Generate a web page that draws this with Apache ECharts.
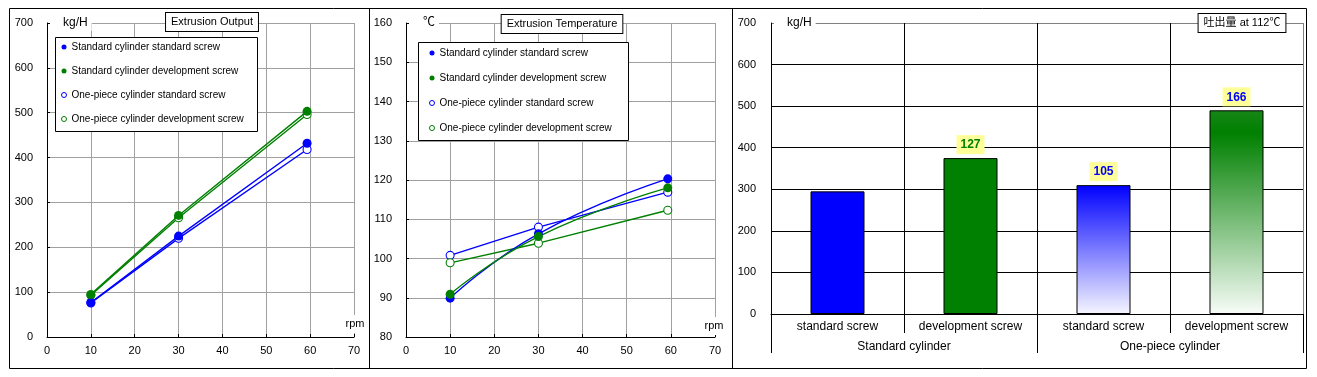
<!DOCTYPE html>
<html>
<head>
<meta charset="utf-8">
<script src="https://cdn.jsdelivr.net/npm/echarts@6/dist/echarts.min.js"></script>
<style>
  html, body { margin: 0; padding: 0; background: #fff; }
  #chart { width: 1317px; height: 377px; }
</style>
</head>
<body>
<div id="chart"></div>
<script>
// screw speed (rpm) used in both line charts
const rpm = [10, 30, 59.3];

// Extrusion Output (kg/H)
const outStdCylStdScrew = [77, 225, 432];
const outStdCylDevScrew = [95, 271, 503];
const outOneCylStdScrew = [76, 220, 418];
const outOneCylDevScrew = [93, 266, 496];

// Extrusion Temperature (℃)
const tempStdCylStdScrew = [89.9, 106.3, 120.3];
const tempStdCylDevScrew = [90.9, 105.6, 118.0];
const tempOneCylStdScrew = [100.8, 108.0, 116.9];
const tempOneCylDevScrew = [98.9, 103.9, 112.3];

// 吐出量 at 112℃ (kg/H)
const screwNames = ["standard screw", "development screw", "standard screw", "development screw"];
const cylinderNames = ["Standard cylinder", "One-piece cylinder"];
const outputAt112 = [295, 375, 310, 490];
const ratioLabels = ["", "127", "105", "166"];

const seriesNames = [
  "Standard cylinder standard screw",
  "Standard cylinder development screw",
  "One-piece cylinder standard screw",
  "One-piece cylinder development screw",
];

const BLUE = "#0000ff";
const GREEN = "#008000";
const GRID_GREY = "#a0a0a0";
const FONT = "'Liberation Sans', Arial, 'Noto Sans CJK JP', sans-serif";
const NARROW = "'Liberation Sans Narrow', 'Liberation Sans', Arial, sans-serif";

const chart = echarts.init(document.getElementById("chart"), null, { renderer: "canvas" });

function lineSeries(name, values, axis, color, filled, smooth) {
  return {
    name,
    type: "line",
    xAxisIndex: axis,
    yAxisIndex: axis,
    data: rpm.map((r, i) => [r, values[i]]),
    symbol: "circle",
    symbolSize: filled ? 9 : 8,
    smooth: smooth ? 0.5 : false,
    lineStyle: { color, width: 1.4 },
    itemStyle: filled ? { color } : { color: "#fff", borderColor: color, borderWidth: 1.1 },
    z: filled ? 4 : 3,
    emphasis: { disabled: true },
  };
}

function legendItems() {
  return [
    { name: seriesNames[0], icon: "circle", itemStyle: { color: BLUE, borderWidth: 0 } },
    { name: seriesNames[1], icon: "circle", itemStyle: { color: GREEN, borderWidth: 0 } },
    { name: seriesNames[2], icon: "circle", itemStyle: { color: "#fff", borderColor: BLUE, borderWidth: 1 } },
    { name: seriesNames[3], icon: "circle", itemStyle: { color: "#fff", borderColor: GREEN, borderWidth: 1 } },
  ];
}

function valueXAxis(grid) {
  return {
    type: "value", gridIndex: grid, min: 0, max: 70, interval: 10,
    axisLine: { show: true, onZero: false, lineStyle: { color: "#000", width: 1 } },
    axisTick: { show: true, inside: true, length: 3, lineStyle: { color: "#000" } },
    axisLabel: { color: "#000", fontSize: 11, fontFamily: FONT, margin: 8 },
    splitLine: { show: true, lineStyle: { color: GRID_GREY, width: 1 } },
  };
}

function valueYAxis(grid, min, max, interval) {
  return {
    type: "value", gridIndex: grid, min, max, interval,
    axisLine: { show: true, onZero: false, lineStyle: { color: "#000", width: 1 } },
    axisTick: { show: true, inside: true, length: 3, lineStyle: { color: "#000" } },
    axisLabel: { color: "#000", fontSize: 11, fontFamily: FONT, margin: 14 },
    splitLine: { show: true, lineStyle: { color: GRID_GREY, width: 1 } },
  };
}

const barFills = [
  BLUE,
  GREEN,
  { type: "linear", x: 0, y: 0, x2: 0, y2: 1, colorStops: [
    { offset: 0, color: "#0000ff" }, { offset: 1, color: "#f6f6ff" } ] },
  { type: "linear", x: 0, y: 0, x2: 0, y2: 1, colorStops: [
    { offset: 0, color: "#178617" }, { offset: 0.11, color: "#008000" }, { offset: 1, color: "#f8fcf8" } ] },
];
const ratioColors = [BLUE, GREEN, BLUE, BLUE];

function unitText(x, y, text, padLeft) {
  return {
    type: "text", x, y, z: 10,
    style: {
      text, fill: "#000", fontSize: 12, fontFamily: FONT,
      align: "left", verticalAlign: "middle",
      backgroundColor: "#fff", padding: [2, 4, 2, padLeft],
    },
  };
}

function titleBox(x, y, text) {
  return {
    type: "text", x, y, z: 10,
    style: {
      text, fill: "#000", fontSize: 11, fontFamily: FONT,
      align: "center", verticalAlign: "middle",
      backgroundColor: "#fff", borderColor: "#000", borderWidth: 1,
      padding: [4, 5, 3, 5],
    },
  };
}

function rpmText(x, y) {
  return {
    type: "text", x, y, z: 10,
    style: {
      text: "rpm", fill: "#000", fontSize: 11, fontFamily: FONT,
      align: "center", verticalAlign: "middle",
      backgroundColor: "#fff", padding: [4, 1, 3, 1],
    },
  };
}

const option = {
  animation: false,
  backgroundColor: "#fff",
  grid: [
    { left: 47, top: 23, width: 307, height: 314 },
    { left: 406, top: 23, width: 309, height: 314 },
    { left: 771, top: 23, width: 532, height: 291 },
  ],
  legend: [
    {
      data: legendItems(), orient: "vertical", left: 61, top: 41,
      itemWidth: 5, itemHeight: 5, itemGap: 12, padding: 0, selectedMode: false,
      textStyle: { color: "#000", fontSize: 10, fontFamily: FONT, lineHeight: 12 }, z: 6,
    },
    {
      data: legendItems(), orient: "vertical", left: 429, top: 47,
      itemWidth: 5, itemHeight: 5, itemGap: 13, padding: 0, selectedMode: false,
      textStyle: { color: "#000", fontSize: 10, fontFamily: FONT, lineHeight: 12 }, z: 6,
    },
  ],
  xAxis: [
    valueXAxis(0),
    valueXAxis(1),
    {
      type: "category", gridIndex: 2, data: screwNames,
      axisLine: { show: true, lineStyle: { color: "#000", width: 1 } },
      axisTick: { show: true, interval: 0, length: 19, lineStyle: { color: "#000" } },
      axisLabel: { color: "#000", fontSize: 12, fontFamily: FONT, margin: 7, interval: 0 },
      splitLine: { show: true, interval: 0, lineStyle: { color: ["#000", "#000", "#000", "#000", "#808080"], width: 1 } },
    },
    {
      type: "category", gridIndex: 2, data: cylinderNames, position: "bottom", offset: 19,
      axisLine: { show: false },
      axisTick: { show: true, interval: 0, length: 20, lineStyle: { color: "#000" } },
      axisLabel: { color: "#000", fontSize: 12, fontFamily: FONT, margin: 8, interval: 0 },
      splitLine: { show: false },
    },
  ],
  yAxis: [
    valueYAxis(0, 0, 700, 100),
    valueYAxis(1, 80, 160, 10),
    {
      type: "value", gridIndex: 2, min: 0, max: 700, interval: 100,
      axisLine: { show: true, lineStyle: { color: "#000", width: 1 } },
      axisTick: { show: false },
      axisLabel: { color: "#000", fontSize: 11, fontFamily: FONT, margin: 15 },
      splitLine: { show: true, lineStyle: {
        color: ["#000", "#000", "#000", "#000", "#000", "#000", "#000", "#808080"], width: 1 } },
    },
  ],
  series: [
    lineSeries(seriesNames[0], outStdCylStdScrew, 0, BLUE, true, false),
    lineSeries(seriesNames[1], outStdCylDevScrew, 0, GREEN, true, false),
    lineSeries(seriesNames[2], outOneCylStdScrew, 0, BLUE, false, false),
    lineSeries(seriesNames[3], outOneCylDevScrew, 0, GREEN, false, false),
    lineSeries(seriesNames[0], tempStdCylStdScrew, 1, BLUE, true, true),
    lineSeries(seriesNames[1], tempStdCylDevScrew, 1, GREEN, true, true),
    lineSeries(seriesNames[2], tempOneCylStdScrew, 1, BLUE, false, false),
    lineSeries(seriesNames[3], tempOneCylDevScrew, 1, GREEN, false, false),
    {
      name: "吐出量 at 112℃",
      type: "bar",
      xAxisIndex: 2,
      yAxisIndex: 2,
      barWidth: 54,
      data: outputAt112.map((v, i) => ({
        value: v,
        itemStyle: { color: barFills[i], borderColor: "#000", borderWidth: 1 },
        label: { show: ratioLabels[i] !== "", color: ratioColors[i] },
      })),
      label: {
        position: "top", distance: 4,
        formatter: (p) => ratioLabels[p.dataIndex],
        backgroundColor: "#ffff99", padding: [4, 4, 3, 4],
        fontSize: 12, fontWeight: "bold", fontFamily: NARROW,
      },
      emphasis: { disabled: true },
      z: 3,
    },
  ],
  graphic: [
    // panel frames
    { type: "rect", shape: { x: 9.5, y: 8.5, width: 1297, height: 360 }, style: { fill: null, stroke: "#000", lineWidth: 1 }, z: 20, silent: true },
    { type: "line", shape: { x1: 369.5, y1: 8.5, x2: 369.5, y2: 368.5 }, style: { stroke: "#000", lineWidth: 1 }, z: 20, silent: true },
    { type: "line", shape: { x1: 732.5, y1: 8.5, x2: 732.5, y2: 368.5 }, style: { stroke: "#000", lineWidth: 1 }, z: 20, silent: true },
    // legend boxes
    { type: "rect", shape: { x: 55.5, y: 37.5, width: 202, height: 94 }, style: { fill: "#fff", stroke: "#000", lineWidth: 1 }, z: 5, silent: true },
    { type: "rect", shape: { x: 418.5, y: 42.5, width: 210, height: 98 }, style: { fill: "#fff", stroke: "#000", lineWidth: 1 }, z: 5, silent: true },
    // titles
    titleBox(212, 22, "Extrusion Output"),
    titleBox(562, 24, "Extrusion Temperature"),
    titleBox(1242, 23, "吐出量 at 112℃"),
    // units
    unitText(50, 23, "kg/H", 13),
    unitText(409, 23, "℃", 14),
    unitText(774, 23, "kg/H", 13),
    rpmText(355, 324),
    rpmText(714, 326),
  ],
};

chart.setOption(option);
</script>
</body>
</html>
